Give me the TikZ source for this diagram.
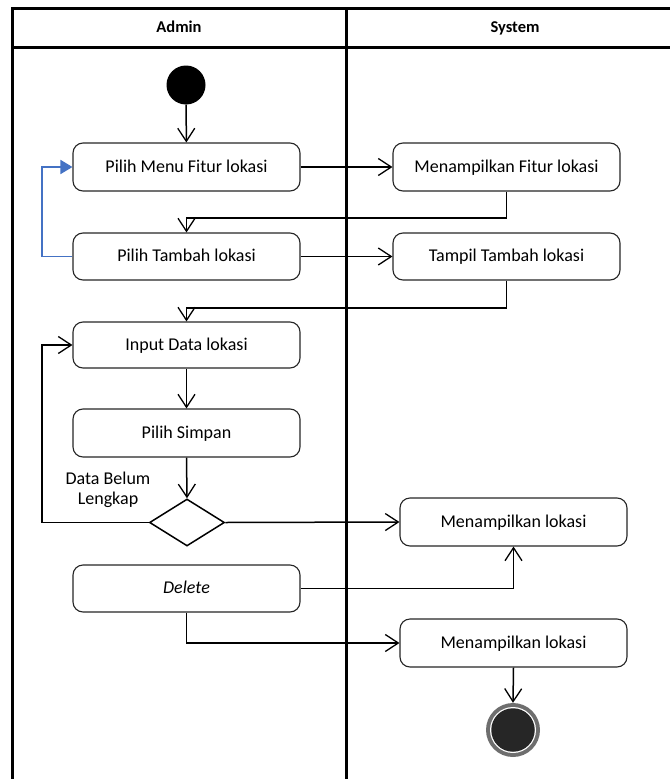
\documentclass[tikz,border=0pt]{standalone}
\usepackage{fontspec}
\setmainfont{Carlito}
\usetikzlibrary{arrows.meta,shapes.geometric}
\definecolor{loopblue}{HTML}{4472C4}
\definecolor{endgray}{HTML}{6E6E6E}
\definecolor{enddark}{HTML}{262626}
\tikzset{
  lane/.style={line width=3pt,black},
  act/.style={draw=black!85,line width=1.1pt,rounded corners=10pt,minimum width=227pt,
    minimum height=48pt,inner sep=0pt,font=\fontsize{18}{20}\selectfont,fill=white,
    text height=12.5pt,text depth=2.5pt},
  decide/.style={diamond,draw=black,line width=1.5pt,minimum width=75pt,minimum height=47pt,
    inner sep=0pt,aspect=1.6,fill=white},
  flow/.style={line width=1.5pt,black,-{Straight Barb[length=13pt,width=17pt,line width=1.3pt]}},
  back/.style={line width=1.8pt,loopblue,-{Triangle[length=12pt,width=14pt]}},
  lanehead/.style={font=\fontsize{16.5}{19}\selectfont\bfseries,text height=11pt,text depth=3.5pt,inner sep=0pt},
  guard/.style={font=\fontsize{18}{20}\selectfont,align=center,inner sep=0pt}
}
\begin{document}
\begin{tikzpicture}[x=1pt,y=-1pt]
\useasboundingbox (0,0) rectangle (670,779);
% swimlane frame
\draw[lane] (12,779) -- (12,8) -- (670,8);
\draw[lane] (12,47) -- (670,47);
\draw[lane] (346,8) -- (346,779);
\node[lanehead] (hA) at (179,29) {Admin};
\node[lanehead] (hS) at (515,29) {System};

% start node
\node[circle,fill=black,minimum size=39pt,inner sep=0pt] (start) at (186,85) {};

% activities
\node[act] (p1) at (186.5,167) {Pilih Menu Fitur lokasi};
\node[act] (m1) at (506.5,167) {Menampilkan Fitur lokasi};
\node[act,minimum height=47pt] (p2) at (186.5,256.5) {Pilih Tambah lokasi};
\node[act,minimum height=47pt] (t2) at (506.5,256.5) {Tampil Tambah lokasi};
\node[act,minimum height=46pt] (in) at (186.5,345) {Input Data lokasi};
\node[act] (sv) at (186.5,433) {Pilih Simpan};
\node[decide] (dec) at (187,522.5) {};
\node[act] (ml1) at (513.5,522) {Menampilkan lokasi};
\node[act,minimum height=47pt] (del) at (186.5,588.5) {\itshape Delete};
\node[act] (ml2) at (513.5,643) {Menampilkan lokasi};

% final node
\node[circle,fill=endgray,minimum size=54pt,inner sep=0pt] (end) at (513,730) {};
\node[circle,fill=white,minimum size=46pt,inner sep=0pt] (endw) at (513,730) {};
\node[circle,fill=enddark,minimum size=43.5pt,inner sep=0pt] (endc) at (513,730) {};

% guard label
\node[guard] (g) at (108,490) {Data Belum\\Lengkap};

% junction points
\coordinate (j1) at (186.5,218);
\coordinate (j2) at (186.5,308);
\coordinate (jl) at (42,522.5);
\coordinate (jb) at (42,256.5);

% connectors
\draw[flow] (start) -- (p1);
\draw[flow] (p1) -- (m1);
\draw[flow] (m1.south) |- (j1) -- (p2.north);
\draw[back] (p2.west) -- (jb) |- (p1.west);
\draw[flow] (p2) -- (t2);
\draw[flow] (t2.south) |- (j2) -- (in.north);
\draw[flow] (in) -- (sv);
\draw[flow] (sv.south) -- (dec.north);
\draw[flow] (dec.west) -- (jl) |- (in.west);
\draw[flow] (dec.east) -- (ml1.west);
\draw[flow] (del.east) -| (ml1.south);
\draw[flow] (del.south) |- (ml2.west);
\draw[flow] (ml2.south) -- (end.north);
\end{tikzpicture}
\end{document}
